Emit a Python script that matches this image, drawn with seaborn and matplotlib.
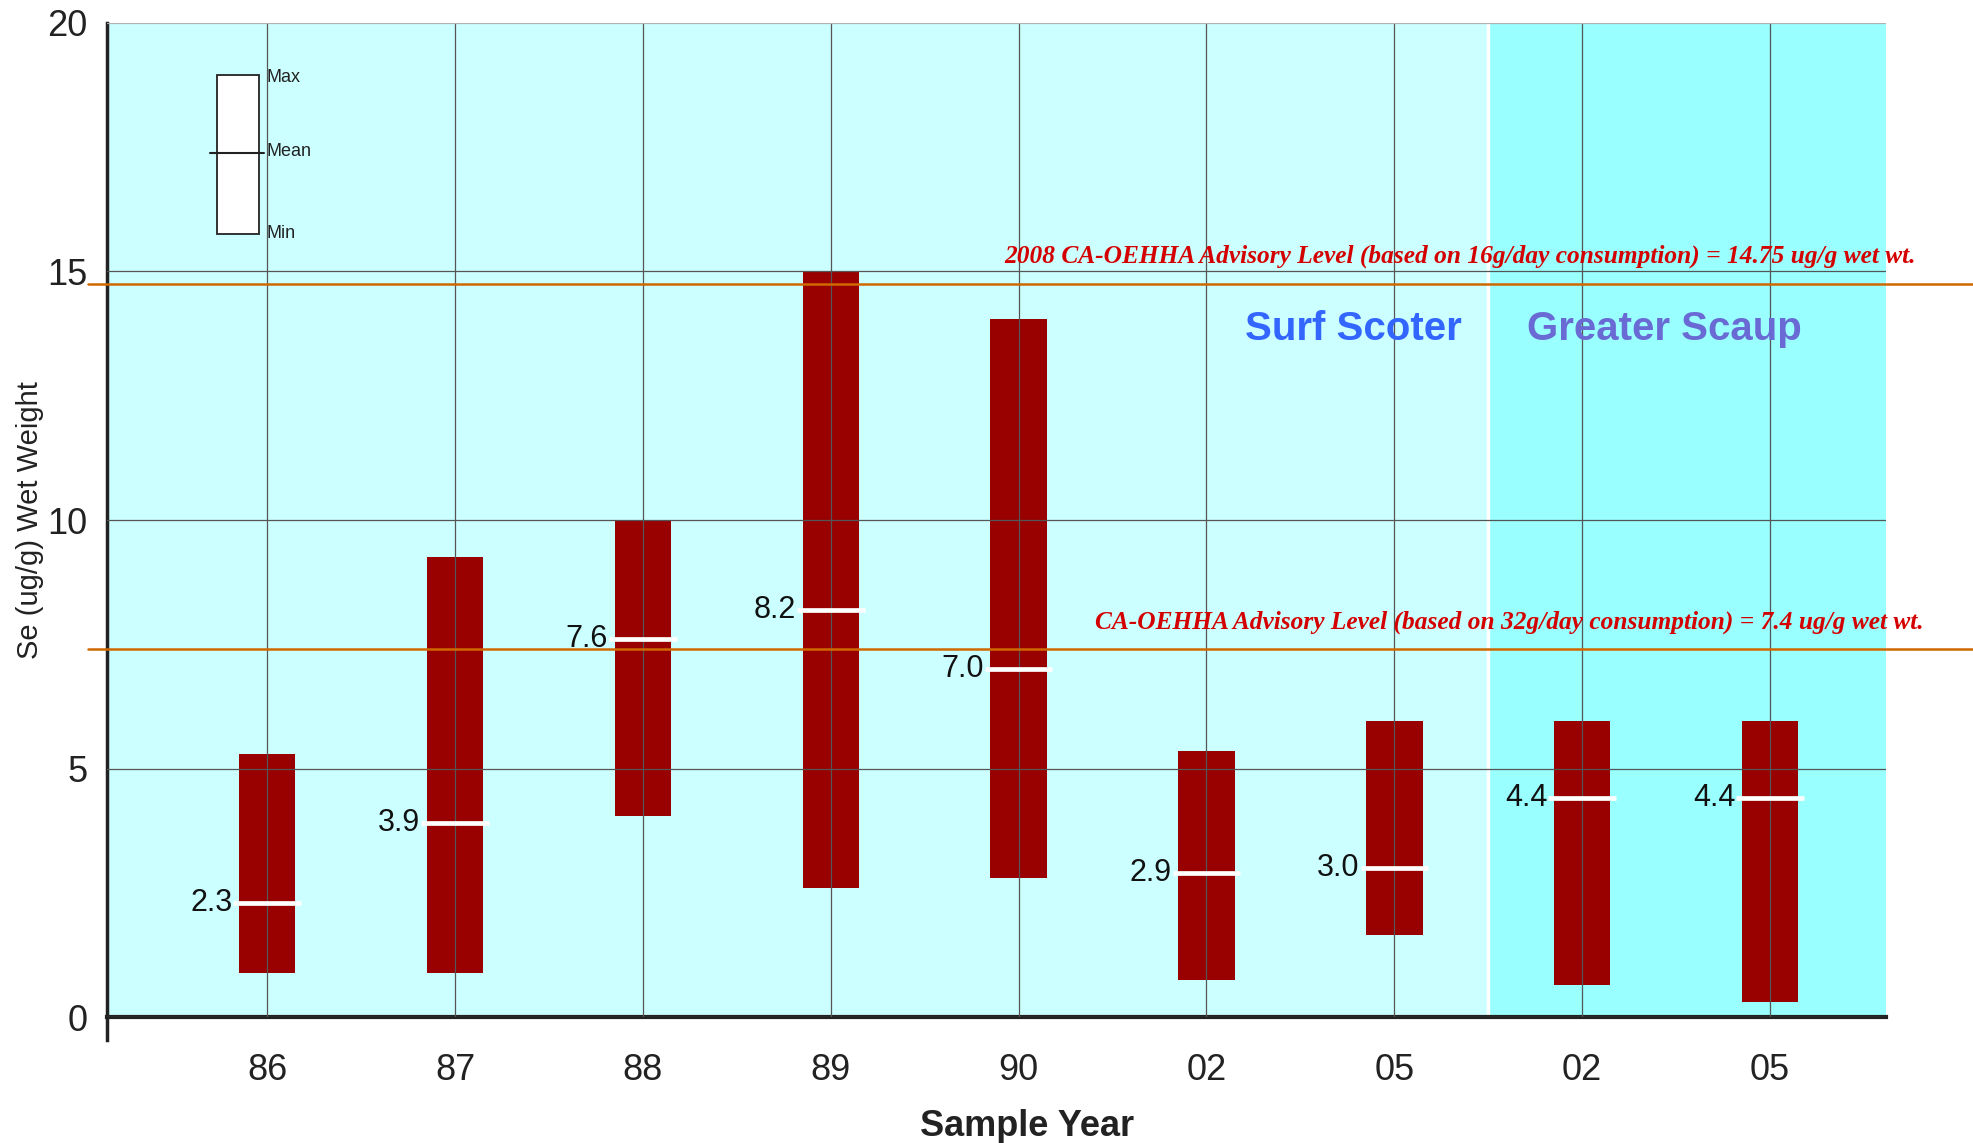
import pandas as pd
import matplotlib.pyplot as plt
import matplotlib.transforms as mtransforms
import seaborn as sns
from matplotlib.patches import Rectangle

# Selênio em aves (ug/g peso úmido)
anos = ["86", "87", "88", "89", "90", "02", "05", "02", "05"]
especies = ["Surf Scoter"] * 7 + ["Greater Scaup"] * 2
maximos = [5.3, 9.25, 10.0, 15.0, 14.05, 5.35, 5.95, 5.95, 5.95]
minimos = [0.9, 0.9, 4.05, 2.6, 2.8, 0.75, 1.65, 0.65, 0.3]
medias = [2.3, 3.9, 7.6, 8.2, 7.0, 2.9, 3.0, 4.4, 4.4]

niveis = [14.75, 7.4]
textos_niveis = [
    "2008 CA-OEHHA Advisory Level (based on 16g/day consumption) = 14.75 ug/g wet wt.",
    "CA-OEHHA Advisory Level (based on 32g/day consumption) = 7.4 ug/g wet wt.",
]

df = pd.DataFrame({
    "grupo": [f"{e} {a}" for e, a in zip(especies, anos)],
    "ano": anos,
    "especie": especies,
    "min": minimos,
    "max": maximos,
    "media": medias,
})
df["amplitude"] = df["max"] - df["min"]

sns.set_style("white")
plt.rcParams["font.family"] = ["Liberation Sans", "DejaVu Sans"]

fig = plt.figure(figsize=(19.74, 11.43), dpi=100)
ax = fig.add_axes([0.0542, 0.110, 0.9012, 0.870])

xmin, xmax = -0.853, 8.617
corte = 6.5  # separação entre as espécies

# fundos
ax.axvspan(xmin, corte, color="#ccffff", zorder=0, lw=0)
ax.axvspan(corte, xmax, color="#99ffff", zorder=0, lw=0)
ax.axvline(corte, color="white", lw=2.5, zorder=0.5)

# barras min-max
largura = 0.30
sns.barplot(data=df, x="grupo", y="amplitude", bottom=df["min"].values,
            color="#990000", saturation=1, width=largura, errorbar=None,
            linewidth=0, ax=ax)

# linha da média + rótulo
for i, m in enumerate(df["media"]):
    ax.hlines(m, i - 0.18, i + 0.18, color="white", lw=3.4, zorder=4)
    ax.text(i - largura / 2 - 0.035, m, f"{m:.1f}", ha="right", va="center",
            fontsize=22, color="#111111", zorder=5)

# níveis de advertência
trans = mtransforms.blended_transform_factory(ax.transAxes, ax.transData)
for nivel in niveis:
    ax.plot([-0.0106, 1.05], [nivel, nivel], transform=trans, color="#d06800",
            lw=1.8, clip_on=False, zorder=3.5)
ax.text(1.017, 15.3, textos_niveis[0], transform=trans, ha="right", va="center",
        family="Liberation Serif", style="italic", weight="bold", fontsize=18.3,
        color="#d40000", zorder=5)
ax.text(1.021, 7.95, textos_niveis[1], transform=trans, ha="right", va="center",
        family="Liberation Serif", style="italic", weight="bold", fontsize=18.3,
        color="#d40000", zorder=5)

# nomes das espécies
ax.text(5.78, 13.85, "Surf Scoter", ha="center", va="center",
        weight="bold", fontsize=29, color="#3366ff", zorder=5)
ax.text(7.44, 13.85, "Greater Scaup", ha="center", va="center",
        weight="bold", fontsize=29, color="#6a6ad4", zorder=5)

# legenda esquemática
ax.add_patch(Rectangle((0.0616, 15.75), 0.024, 3.21, transform=trans,
                       facecolor="white", edgecolor="#222222", lw=1.3, zorder=5))
ax.plot([0.058, 0.0885], [17.39, 17.39], transform=trans, color="#222222",
        lw=1.5, zorder=6)
for rot, y in [("Max", 18.9), ("Mean", 17.42), ("Min", 15.77)]:
    ax.text(0.0895, y, rot, transform=trans, ha="left", va="center",
            fontsize=13, color="#222222", zorder=6)

# eixos
ax.set_xlim(xmin, xmax)
ax.set_ylim(0, 20)
ax.set_yticks([0, 5, 10, 15, 20])
ax.set_xticks(range(len(anos)))
ax.set_xticklabels(anos)
for lab in ax.get_xticklabels() + ax.get_yticklabels():
    lab.set_fontsize(26)
    lab.set_color("#222222")
ax.tick_params(axis="x", length=16, width=1.2, color="#222222", direction="out", pad=10)
ax.tick_params(axis="y", length=6, width=1.2, color="#222222", direction="out", pad=8)

ax.set_axisbelow(False)
ax.grid(True, color="#555555", lw=0.9)
ax.get_ygridlines()[-1].set_color("#b0b0b0")

for lado in ["top", "right"]:
    ax.spines[lado].set_visible(False)
ax.spines["left"].set_linewidth(2.5)
ax.spines["left"].set_color("#222222")
ax.spines["left"].set_bounds(-0.46, 20)
ax.spines["bottom"].set_linewidth(3)
ax.spines["bottom"].set_color("#222222")

ax.set_xlabel("Sample Year", fontsize=26, weight="bold", color="#222222")
ax.xaxis.set_label_coords(0.517, -0.092)
ax.set_ylabel("Se (ug/g) Wet Weight", fontsize=21, color="#222222")
ax.yaxis.set_label_coords(-0.0355, 0.5)

fig.savefig("out.png", dpi=100)
plt.close()
